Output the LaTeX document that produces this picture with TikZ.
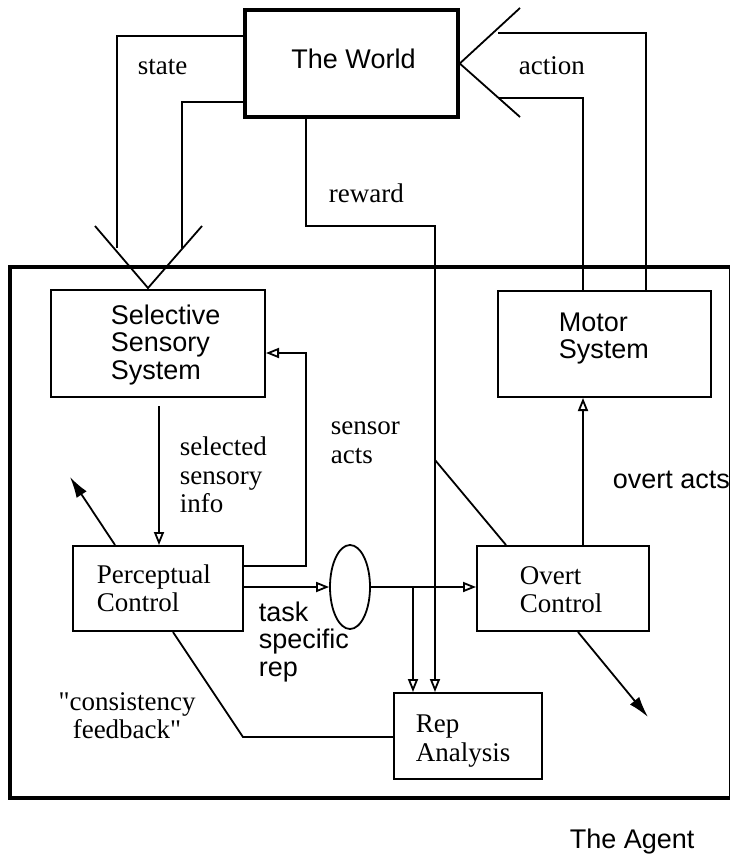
\documentclass[tikz,border=0pt]{standalone}
\usepackage{fontspec}
\setmainfont{Liberation Serif}[Ligatures=TeXOff]
\setsansfont{Liberation Sans}[Ligatures=TeXOff]
\usetikzlibrary{arrows.meta,shapes.geometric}

\begin{document}
\begin{tikzpicture}[x=1pt,y=-1pt,
  line width=1.8pt, line join=miter,
  box/.style={draw, rectangle, line width=2pt, inner sep=0pt},
  heavy/.style={line width=3.5pt},
  sans/.style={font=\sffamily\fontsize{27}{27.5}\selectfont, inner sep=0pt, align=left},
  serif/.style={font=\rmfamily\fontsize{27}{28.5}\selectfont, inner sep=0pt, align=left},
  oarrow/.style={-{Triangle[open,length=13pt,width=10pt,line width=1.8pt]}},
  farrow/.style={-{Latex[length=21pt,width=12pt]}},
]
\useasboundingbox (0,0) rectangle (730,856);

% ---- boxes ----
\node[box, heavy, minimum width=213pt, minimum height=107pt] (world) at (351.5,63.5) {};
\node[draw, heavy, inner sep=0pt, minimum width=721pt, minimum height=531pt] (agent) at (370.6,532.5) {};
\node[box, minimum width=214pt, minimum height=107pt] (sel) at (158,343.5) {};
\node[box, minimum width=213pt, minimum height=106pt] (motor) at (604.5,344) {};
\node[box, minimum width=170pt, minimum height=85pt] (perc) at (158,588.5) {};
\node[box, minimum width=172pt, minimum height=85pt] (overt) at (563,588.5) {};
\node[box, minimum width=148pt, minimum height=86pt] (rep) at (468,736) {};
\node[draw, ellipse, line width=1.8pt, inner sep=0pt, minimum width=40pt, minimum height=84pt] (ell) at (350,587) {};

% ---- box texts ----
\node[sans, anchor=base] (worldT) at (353.5,69) {The World};
\node[sans, anchor=west] (selT) at (110,345) {Selective\\Sensory\\System};
\node[sans, anchor=west] (motorT) at (558,338.5) {Motor\\System};
\node[serif, anchor=west] (percT) at (96,588.5) {Perceptual\\Control};
\node[serif, anchor=west] (overtT) at (519,589.5) {Overt\\Control};
\node[serif, anchor=west] (repT) at (415,741) {Rep\\Analysis};

% ---- state input, open V mouth over the sensory system ----
\coordinate (stip) at (148,288);
\coordinate (svl) at (95,226);
\coordinate (svr) at (202,226);
\draw (world.west |- 0,36) -| (117,248);
\draw (world.west |- 0,102) -| (182,248);
\draw (svl) -- (stip) -- (svr);

% ---- action output, open V mouth at the world ----
\coordinate (avt) at (520,8);
\coordinate (avb) at (520,117);
\draw (avt) -- (world.east) -- (avb);
\draw (498,33) -| (motor.north -| 646,0);
\draw (498,98) -| (motor.north -| 583,0);

% ---- reward ----
\draw[oarrow] (world.south -| 306,0) |- (435,226) -- (rep.north -| 435,0);

% ---- internal flows ----
\draw[oarrow, shorten <=8pt] (sel.south -| 159,0) -- (perc.north -| 159,0);
\draw[oarrow] (perc.east |- 0,566) -| (306,353) -- (sel.east |- 0,353);
\draw[oarrow] (perc.east |- ell.west) -- (ell.west);
\draw[oarrow] (ell.east) -- (overt.west |- ell.east);
\draw[oarrow] (ell.east -| 413,0) -- (rep.north -| 413,0);
\draw[oarrow] (overt.north -| 583,0) -- (motor.south -| 583,0);
\coordinate (pout) at (70,477);
\draw[farrow] (perc.north -| 115,0) -- (pout);
\draw (overt.north -| 506,0) -- (435,460);
\coordinate (oout) at (648,717);
\draw[farrow] (overt.south -| 578,0) -- (oout);
\draw (perc.south -| 173,0) -- (243,737) -- (rep.west |- 0,737);

% ---- labels ----
\node[serif, anchor=base west] (stateL) at (137,75) {state};
\node[serif, anchor=base west] (actionL) at (518,75) {action};
\node[serif, anchor=base west] (rewardL) at (328,202) {reward};
\node[serif, anchor=west] (selL) at (179,475) {selected\\sensory\\info};
\node[serif, anchor=west] (sensL) at (330,443) {sensor\\acts};
\node[sans, anchor=base west] (overtL) at (612,488) {overt acts};
\node[sans, anchor=west] (taskL) at (258,642) {task\\specific\\rep};
\node[serif, align=center] (consL) at (127,715.5) {"consistency\\feedback"};
\node[sans, anchor=base west] (agentL) at (569,848) {The Agent};
\end{tikzpicture}
\end{document}
